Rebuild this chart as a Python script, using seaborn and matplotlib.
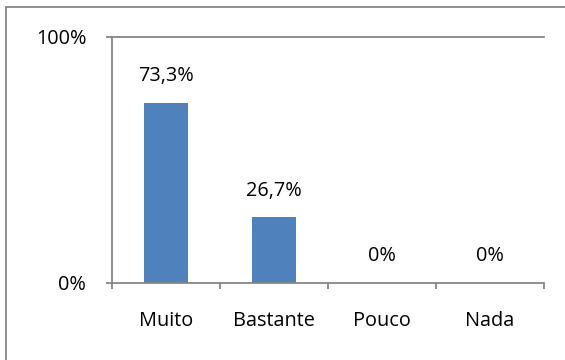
import matplotlib
matplotlib.use("Agg")
import matplotlib.pyplot as plt
from matplotlib.patches import Rectangle
from matplotlib.ticker import FixedLocator
import seaborn as sns
import pandas as pd

categories = ["Muito", "Bastante", "Pouco", "Nada"]
values = [73.3, 26.7, 0.0, 0.0]
value_labels = ["73,3%", "26,7%", "0%", "0%"]
y_ticks = [0, 100]
y_tick_labels = ["0%", "100%"]

sns.set_theme(style="white")
plt.rcParams["font.family"] = ["Open Sans", "DejaVu Sans"]

FS = 14.3
df = pd.DataFrame({"cat": categories, "val": values})

fig = plt.figure(figsize=(5.65, 3.6), dpi=100)
ax = fig.add_axes([112/565, 77/360, (544-112)/565, (283-37)/360])

sns.barplot(data=df, x="cat", y="val", ax=ax, color="#4F81BD", width=0.4,
            saturation=1, edgecolor="none")

ax.set_xlim(-0.5, len(categories) - 0.5)
ax.set_ylim(0, 100)
ax.set_xlabel("")
ax.set_ylabel("")

grey = "#868686"
ax.spines["right"].set_visible(False)
ax.spines["top"].set_visible(True)
for s in ["left", "bottom", "top"]:
    ax.spines[s].set_color(grey)
    ax.spines[s].set_linewidth(1.3)

ax.set_yticks(y_ticks)
ax.set_yticklabels(y_tick_labels, fontsize=FS, color="black")
ax.tick_params(axis="y", which="major", length=4.5, width=1.3, color=grey, pad=14, direction="out", left=True)

ax.set_xticks(range(len(categories)))
ax.set_xticklabels(categories, fontsize=FS, color="black")
ax.tick_params(axis="x", which="major", length=0, pad=20)
ax.xaxis.set_minor_locator(FixedLocator([i - 0.5 for i in range(len(categories) + 1)]))
ax.tick_params(axis="x", which="minor", length=4.5, width=1.3, color=grey, direction="out", bottom=True)

for i, (v, lab) in enumerate(zip(values, value_labels)):
    ax.annotate(lab, xy=(i, v), xytext=(0, 12), textcoords="offset points",
                ha="center", va="bottom", fontsize=FS, color="black")

fig.add_artist(Rectangle((6/565, -0.2), 2, 1.2 - 7/360, transform=fig.transFigure,
                         fill=False, edgecolor=grey, linewidth=1.3, clip_on=False))

fig.savefig("out.png", dpi=100)
